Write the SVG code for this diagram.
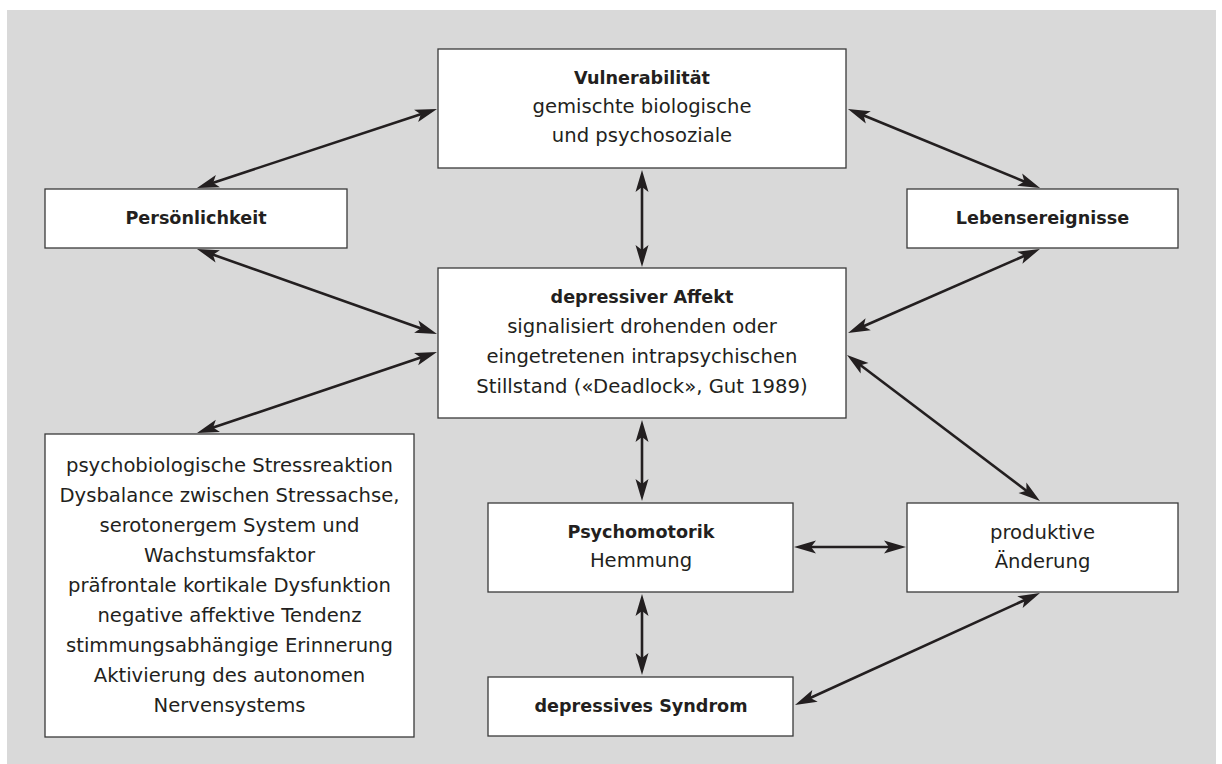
<svg xmlns="http://www.w3.org/2000/svg" width="1222" height="764" viewBox="0 0 1222 764">
<style>
.box{fill:#ffffff;stroke:#3a3a3a;stroke-width:1.3}
.t{font-family:"DejaVu Sans",sans-serif;font-size:19.6px;fill:#231f20;text-anchor:middle}
.b{font-family:"DejaVu Sans",sans-serif;font-size:17.6px;font-weight:bold;fill:#231f20;text-anchor:middle}
.c{stroke:#231f20;stroke-width:2.6;fill:none;marker-start:url(#ah);marker-end:url(#ah)}
</style>
<defs>
<marker id="ah" markerUnits="userSpaceOnUse" viewBox="-14 -8 26 16" refX="0" refY="0" markerWidth="26" markerHeight="16" orient="auto-start-reverse">
<path d="M10,0 L-12,-6.5 L-7,0 L-12,6.5 Z" fill="#231f20"/>
</marker>
</defs>
<rect x="0" y="0" width="1222" height="764" fill="#ffffff"/>
<rect x="7" y="10" width="1209" height="754" fill="#d9d9d9"/>
<g id="connectors">
<path class="c" d="M427.5,112.1 L206.5,184.9"/>
<path class="c" d="M206.4,252.3 L427.6,330.7"/>
<path class="c" d="M427.5,355.2 L206.5,429.8"/>
<path class="c" d="M642,180 L642,257"/>
<path class="c" d="M857.2,112.8 L1030.8,184.2"/>
<path class="c" d="M1030.8,253 L857.2,329"/>
<path class="c" d="M855,361 L1032,495"/>
<path class="c" d="M642,430 L642,491"/>
<path class="c" d="M804,547 L896,547"/>
<path class="c" d="M642,604 L642,665"/>
<path class="c" d="M804.1,700.8 L1030.9,597.2"/>
</g>
<g id="vulnerabilitaet">
<rect class="box" x="438" y="49" width="408" height="119"/>
<text class="b" x="642" y="84">Vulnerabilität</text>
<text class="t" x="642" y="113">gemischte biologische</text>
<text class="t" x="642" y="142">und psychosoziale</text>
</g>
<g id="persoenlichkeit">
<rect class="box" x="45" y="189" width="302" height="59"/>
<text class="b" x="196" y="224">Persönlichkeit</text>
</g>
<g id="lebensereignisse">
<rect class="box" x="907" y="189" width="271" height="59"/>
<text class="b" x="1042.5" y="224">Lebensereignisse</text>
</g>
<g id="affekt">
<rect class="box" x="438" y="268" width="408" height="150"/>
<text class="b" x="642" y="303">depressiver Affekt</text>
<text class="t" x="642" y="333">signalisiert drohenden oder</text>
<text class="t" x="642" y="363">eingetretenen intrapsychischen</text>
<text class="t" x="642" y="393">Stillstand («Deadlock», Gut 1989)</text>
</g>
<g id="stressreaktion">
<rect class="box" x="45" y="434" width="369" height="303"/>
<text class="t" x="229.5" y="472">psychobiologische Stressreaktion</text>
<text class="t" x="229.5" y="502">Dysbalance zwischen Stressachse,</text>
<text class="t" x="229.5" y="532">serotonergem System und</text>
<text class="t" x="229.5" y="562">Wachstumsfaktor</text>
<text class="t" x="229.5" y="592">präfrontale kortikale Dysfunktion</text>
<text class="t" x="229.5" y="622">negative affektive Tendenz</text>
<text class="t" x="229.5" y="652">stimmungsabhängige Erinnerung</text>
<text class="t" x="229.5" y="682">Aktivierung des autonomen</text>
<text class="t" x="229.5" y="712">Nervensystems</text>
</g>
<g id="psychomotorik">
<rect class="box" x="488" y="503" width="305" height="89"/>
<text class="b" x="641" y="538">Psychomotorik</text>
<text class="t" x="641" y="567">Hemmung</text>
</g>
<g id="produktive">
<rect class="box" x="907" y="503" width="271" height="89"/>
<text class="t" x="1042.5" y="539">produktive</text>
<text class="t" x="1042.5" y="568">Änderung</text>
</g>
<g id="syndrom">
<rect class="box" x="488" y="677" width="305" height="59"/>
<text class="b" x="641" y="712">depressives Syndrom</text>
</g>
</svg>
